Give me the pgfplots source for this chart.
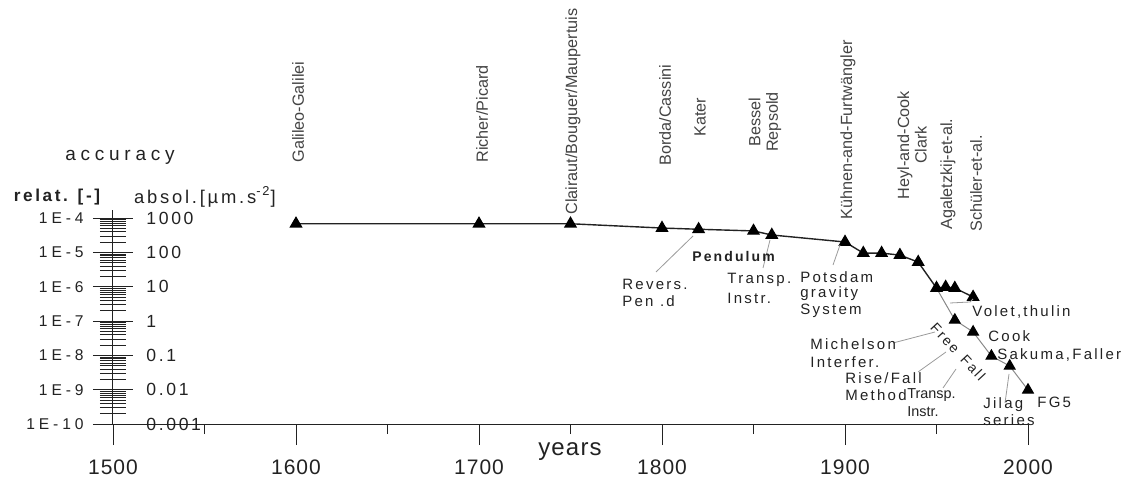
\documentclass[border=0pt]{standalone}
\usepackage{fontspec}
\setmainfont{Liberation Sans}
\newfontfamily\lsA[LetterSpace=15]{Liberation Sans}
\newfontfamily\lsB[LetterSpace=25]{Liberation Sans}
\newfontfamily\lsC[LetterSpace=5]{Liberation Sans}
\usepackage{pgfplots}
\pgfplotsset{compat=1.18}
\definecolor{ink}{HTML}{222222}
\definecolor{lead}{HTML}{9A9A9A}
\definecolor{ffall}{HTML}{8A8A8A}
\begin{document}
\begin{tikzpicture}
% ---------- data axis with the years axis ----------
\begin{axis}[scale only axis, width=457.5pt, height=103pt, at={(0,0)}, anchor=south west,
  xmin=1500, xmax=2000, ymode=log, ymin=1e-10, ymax=1e-4,
  axis x line*=bottom, axis y line=none,
  xtick={1500,1600,1700,1800,1900,2000},
  xticklabels={1500,1600,1700,1800,1900,2000},
  minor xtick={1550,1650,1750,1850,1950},
  xtick align=outside, major tick length=10.5pt, minor tick length=5pt,
  xticklabel style={font=\lsC\fontsize{10.5}{12}\selectfont, text=ink, yshift=-4pt},
  axis line style={ink, line width=0.5pt}, tick style={ink, line width=0.5pt},
  clip=false]
\addplot[ffall, line width=0.5pt, mark=triangle*, mark size=3.1pt,
  mark options={fill=black, draw=black}, mark indices={2,3,4,5,6}] coordinates {
  (1950,9.1e-7) (1960,1.07e-7) (1970,4.8e-8) (1980,9.5e-9) (1990,4.9e-9) (2000,9.8e-10)};
\addplot[ink, line width=0.7pt, mark=triangle*, mark size=3.1pt,
  mark options={fill=black, draw=black}] coordinates {
  (1600,6.8e-5) (1700,6.8e-5) (1750,6.8e-5) (1800,5.1e-5) (1820,4.7e-5)
  (1850,4.2e-5) (1860,3.2e-5) (1900,2.0e-5) (1910,9.5e-6) (1920,9.5e-6)
  (1930,8.3e-6) (1940,5.2e-6) (1950,9.1e-7) (1955,9.8e-7) (1960,9.1e-7)
  (1970,5.0e-7)};
\end{axis}
% ---------- accuracy axis ----------
\begin{axis}[scale only axis, width=457.5pt, height=103pt, at={(0,0)}, anchor=south west,
  xmin=1500, xmax=2000, ymode=log, ymin=1e-10, ymax=1e-4,
  axis y line*=left, axis x line=none,
  ytick={1e-10,1e-9,1e-8,1e-7,1e-6,1e-5,1e-4},
  yticklabels={},
  minor ytick={2e-10,3e-10,4e-10,5e-10,6e-10,7e-10,8e-10,9e-10,
    2e-9,3e-9,4e-9,5e-9,6e-9,7e-9,8e-9,9e-9,
    2e-8,3e-8,4e-8,5e-8,6e-8,7e-8,8e-8,9e-8,
    2e-7,3e-7,4e-7,5e-7,6e-7,7e-7,8e-7,9e-7,
    2e-6,3e-6,4e-6,5e-6,6e-6,7e-6,8e-6,9e-6,
    2e-5,3e-5,4e-5,5e-5,6e-5,7e-5,8e-5,9e-5},
  ytick align=center, major tick length=20pt, minor tick length=13pt,
  axis line style={ink, line width=0.5pt, shorten >=-4pt}, tick style={ink, line width=0.4pt},
  clip=false]
\addplot[draw=none, forget plot] coordinates {(1500,1e-10)};
\foreach \v/\l/\r in {1e-4/1E-4/1000,1e-5/1E-5/100,1e-6/1E-6/10,1e-7/1E-7/1,1e-8/1E-8/0.1,1e-9/1E-9/0.01,1e-10/1E-10/0.001}{
  \edef\temp{\noexpand\node[anchor=east, inner sep=0pt, xshift=-14.5pt, text=ink, font=\noexpand\lsB\noexpand\fontsize{7.8}{9}\noexpand\selectfont] at (axis cs:1500,\v) {\l};
  \noexpand\node[anchor=west, inner sep=0pt, xshift=16.5pt, text=ink, font=\noexpand\lsA\noexpand\fontsize{8.8}{10}\noexpand\selectfont] at (axis cs:1500,\v) {\r};}
  \temp
}
\end{axis}
% ---------- texts and leader lines in picture pixels ----------
\begin{scope}[x=0.5pt, y=-0.5pt, shift={(-56.5pt,212pt)}]
\node[text=ink, font=\lsB\fontsize{9.5}{11}\selectfont] at (120,157) {accuracy};
\node[text=ink, font=\lsA\bfseries\fontsize{8.6}{10}\selectfont] at (57,197) {relat. [-]};
\node[text=ink, font=\lsA\fontsize{9.2}{11}\selectfont] at (205,197) {absol.[µm.s\textsuperscript{-2}]};
\node[text=ink, font=\lsC\fontsize{12}{14}\selectfont] at (570,452) {years};
% top labels
\begin{scope}[every node/.style={text=ink!85, font=\fontsize{8.1}{8.8}\selectfont, inner sep=0pt, rotate=90}]
\node[anchor=west] at (298,163) {Galileo-Galilei};
\node[anchor=west] at (482,163) {Richer/Picard};
\node[anchor=west] at (573,215) {Clairaut/Bouguer/Maupertuis};
\node[anchor=west] at (665,166) {Borda/Cassini};
\node at (700,117) {Kater};
\node[align=center] at (765,122) {Bessel\\Repsold};
\node[anchor=west] at (848,220) {Kühnen-and-Furtwängler};
\node[align=center] at (912,145) {Heyl-and-Cook\\Clark};
\node[anchor=west] at (948,230) {Agaletzkij-et-al.};
\node[anchor=west] at (976,232) {Schüler-et-al.};
\end{scope}
% leader lines
\begin{scope}[lead, line width=0.4pt]
\draw (656,272)--(693,236);
\draw (763,268)--(770,240);
\draw (833,265)--(840,245);
\draw (893,343)--(935,332);
\draw (918,372)--(946,352);
\draw (943,388)--(956,369);
\draw (1005,403)--(1009,374);
\draw (950,303)--(970,302)--(973,299);
\end{scope}
% annotations
\begin{scope}[every node/.style={text=ink, font=\lsA\fontsize{7.5}{9}\selectfont, inner sep=0pt, anchor=west}]
\node at (622,284) {Revers.};
\node at (622,301) {Pen .d};
\node[font=\lsA\bfseries\fontsize{7}{9}\selectfont] at (692,257) {Pendulum};
\node at (727,280) {Transp.};
\node at (727,298) {Instr.};
\node at (800,277) {Potsdam};
\node at (800,294) {gravity};
\node at (800,311) {System};
\node at (810,344) {Michelson};
\node at (810,362) {Interfer.};
\node at (845,378) {Rise/Fall};
\node at (845,395) {Method};
\node[font=\fontsize{7.2}{8}\selectfont] at (907,395) {Transp.};
\node[font=\fontsize{7.2}{8}\selectfont] at (907,412) {Instr.};
\node at (983,405) {Jilag};
\node at (983,420) {series};
\node at (1037,402) {FG5};
\node at (997,355) {Sakuma,Faller};
\node at (988,336) {Cook};
\node at (972,312) {Volet,thulin};
\node[anchor=center, rotate=-47, font=\lsA\fontsize{7}{9}\selectfont] at (945,338) {Free};
\node[anchor=center, rotate=-47, font=\lsA\fontsize{7}{9}\selectfont] at (973,368) {Fall};
\end{scope}
\pgfresetboundingbox
\path[use as bounding box] (0,0) rectangle (1123,480);
\end{scope}
\end{tikzpicture}
\end{document}
